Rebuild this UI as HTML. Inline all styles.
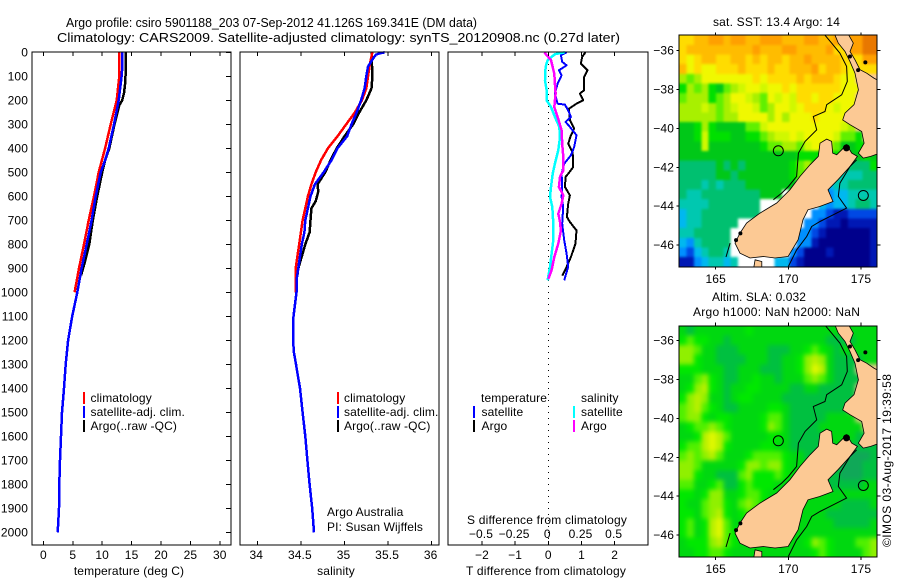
<!DOCTYPE html>
<html>
<head>
<meta charset="utf-8">
<title>Argo profile</title>
<style>
html,body{margin:0;padding:0;background:#fff;width:900px;height:580px;overflow:hidden}
svg{display:block}
text{font-family:"Liberation Sans",sans-serif;font-size:12px;fill:#000;letter-spacing:0.12px}
</style>
</head>
<body>
<svg id="fig" xmlns="http://www.w3.org/2000/svg" width="900" height="580" viewBox="0 0 900 580">
  <text x="66" y="27" style="font-size:13px;letter-spacing:0" textLength="411" lengthAdjust="spacingAndGlyphs">Argo profile: csiro 5901188_203 07-Sep-2012 41.126S 169.341E (DM data)</text>
  <text x="57" y="42" style="font-size:13px;letter-spacing:0" textLength="563" lengthAdjust="spacingAndGlyphs">Climatology: CARS2009. Satellite-adjusted climatology: synTS_20120908.nc (0.27d later)</text>
  <text x="129" y="575" text-anchor="middle">temperature (deg C)</text>
  <text x="336" y="575" text-anchor="middle">salinity</text>
  <text x="546" y="575" text-anchor="middle" textLength="160">T difference from climatology</text>
  <text x="547" y="524" text-anchor="middle" textLength="160">S difference from climatology</text>
  <text x="327" y="516">Argo Australia</text>
  <text x="327" y="531">PI: Susan Wijffels</text>
  <text x="713" y="26" textLength="127">sat. SST: 13.4  Argo: 14</text>
  <text x="712" y="301" textLength="94">Altim. SLA: 0.032</text>
  <text x="693" y="316" textLength="167">Argo h1000: NaN h2000: NaN</text>
  <text transform="translate(891,547) rotate(-90)" textLength="173">©IMOS 03-Aug-2017 19:39:58</text>
</svg>
<script>
// ---- profile data (depth in dbar, temperature in deg C, salinity in PSU) ----
const depthTicks = [0,100,200,300,400,500,600,700,800,900,1000,1100,1200,1300,1400,1500,1600,1700,1800,1900,2000];
const tempTicks = [0,5,10,15,20,25,30];
const salTicks = [34,34.5,35,35.5,36];
const tDiffTicks = [-2,-1,0,1,2];
const sDiffTicks = [-0.5,-0.25,0,0.25,0.5];
const sDiffTickLabels = ["−0.5","−0.25","0","0.25","0.5"];
const tDiffTickLabels = ["−2","−1","0","1","2"];
const salTickLabels = ["34","34.5","35","35.5","36"];

const tClimDepth = [0,100,200,300,400,500,600,700,800,900,1000];
const tClim = [12.9,12.9,12.46,11.44,10.5,9.4,8.6,7.7,6.9,6.05,5.3];
const tSatDepth = [0,50,100,200,300,400,450,500,600,700,800,900,1000,1100,1200,1300,1400,1500,1600,1700,1800,1900,2000];
const tSat = [13.4,13.45,13.3,12.8,12.0,11.1,10.5,9.75,8.9,8.2,7.36,6.5,5.77,4.9,4.2,3.8,3.5,3.16,3.0,2.82,2.7,2.65,2.43];
const tArgoDepth = [0,120,170,200,220,300,400,450,500,600,700,800,870,930];
const tArgo = [14.05,13.95,13.7,13.4,12.9,12.1,11.2,10.5,10.0,9.15,8.4,7.8,7.1,6.4];

const sClimDepth = [0,50,150,200,250,300,350,400,450,500,550,600,650,700,750,800,850,900,1000];
const sClim = [35.32,35.29,35.25,35.2,35.12,35.02,34.92,34.81,34.73,34.67,34.62,34.58,34.55,34.52,34.5,34.48,34.46,34.44,34.44];
const sSatDepth = [0,5,10,30,60,100,150,200,250,300,350,400,450,500,550,600,650,700,750,800,850,900,950,1000,1100,1200,1250,1300,1400,1500,1600,1700,1800,1900,2000];
const sSat = [35.46,35.4,35.36,35.32,35.27,35.25,35.23,35.19,35.14,35.08,35.03,34.92,34.85,34.76,34.66,34.61,34.58,34.55,34.54,34.51,34.49,34.47,34.45,34.45,34.415,34.41,34.42,34.444,34.49,34.52,34.55,34.575,34.6,34.63,34.65];
const sArgoDepth = [0,100,150,200,250,300,350,400,450,500,550,580,620,650,700,750,800,850,900,930];
const sArgo = [35.31,35.32,35.31,35.25,35.17,35.1,35.0,34.91,34.84,34.78,34.69,34.70,34.67,34.62,34.61,34.6,34.55,34.51,34.47,34.46];

const dtSatDepth = [0,12,40,54,75,96,131,172,214,218,242,269,290,311,346,394,429,464,506,561,603,644,714,783,839,894,950];
const dtSat = [.55,.38,.42,.55,.32,.40,.28,.20,.28,.50,.60,.68,.52,.65,.85,.78,.68,.48,.40,.42,.40,.45,.42,.48,.55,.60,.48];
const dtArgoDepth = [0,19,47,75,103,158,172,200,214,235,283,318,346,381,415,436,478,506,519,561,596,631,686,707,742,797,853,894,931];
const dtArgo = [1.12,1.02,.98,1.18,1.08,1.08,.95,1.05,.85,.62,.65,.78,.68,.60,.72,.75,.75,.60,.52,.50,.65,.60,.56,.65,.85,.82,.68,.55,.42];
const dsSatDepth = [0,8,33,61,117,158,200,228,269,311,353,408,464,506,561,603,644,714,783,839,894,950];
const dsSat = [.125,.05,-.005,-.02,-.025,-.0125,-.0125,.02,.05,.083,.088,.075,.05,.033,.02,.0125,.03,.038,.038,.025,.0125,-.005];
const dsArgoDepth = [0,33,89,131,172,228,269,325,381,436,492,519,561,596,631,672,707,742,797,853,908,944];
const dsArgo = [-.03,.02,.045,.05,.055,.045,.07,.1,.105,.113,.113,.088,.08,.113,.1,.075,.088,.095,.075,.045,.025,0];

// ---- map data (rows north to south, 0.5 degree cells; L = land) ----
const lonTicks = [165,170,175];
const latTicks = [-36,-38,-40,-42,-44,-46];
const sstGrid = [
"nnooppoppoopppoooppooppppqq",
"nooooooooopoooppoooopnnppqq",
"nmnoonnoononoonoopoooonnnpp",
"omnmmnnnonnnonnooopnoonmnnn",
"kjkmmmmmmmnmnnnnonooonmm" + "LLL",
"ikjkihjklmmlmmnmnnnnnnmmm" + "LL",
"jkkkijkmmlkjmlmlnnmnnmmm" + "LLL",
"kkklkjklmmljkmmlmnnnmlmm" + "LLL",
"kkkkkjkkmmmmkmkmmmnmmmm" + "LLLL",
"hhikihhhhjjlmmmmmmmmmmlk" + "LLL",
"hhiliiihhiijkllmlmmmmljji" + "LL",
"hhhlhhhhhhhijjkkjlmmkjhhii" + "L",
"hhhhhhhhhhhhhhhhiiiiiihhhih",
"ggggghghghhhhhhijkijiiggggi",
"ggggghhghhhhhhhijjiiiffffgg",
"gggfgfggghhhhhhhwiieeffgggg",
"gffgggggggghhhwhhhwwdeeffff",
"ffffgggggggwwwwwwwwedeefggf",
"effgggggggg" + "wwwwwww" + "dd" + "cbb" + "cccc",
"effggggg" + "wwwwwwwww" + "ddc" + "bbabbbb",
"ffgggggwwwwwwwwwddcbaaaaaab",
"edfggggwwwwwwwwwddbaaaaaaab",
"dcefggfwwwwwwwwdcaaabaaaaab",
"bbdeffef" + "wwwww" + "ee" + "cb" + "aaaaaaaaab"
];
const slaGrid = [
"CBCCCCCCCDCCCCCCCCCCCCCCCCC",
"DEDDCCBCCCCCCCCCCCCCBBBBCCC",
"FFECCBBBCCCCBBBCCDEDCBCCCCC",
"FFDCCBBBBCCCBBCCDFGFCBBBBCC",
"DDDCCCBBCCCBBBCCDFHGCBBB" + "LLL",
"CCEFDCBBCCDCCBCCCEFECBBBB" + "LL",
"CDFGDCBCCDDCCCCBBCCBBBBB" + "LLL",
"DFGFCCBCDDCCCCBBBBBBBBBB" + "LLL",
"EFGEDCBBCCCCDDCBBBBBBBB" + "LLLL",
"EFFDCDDCCCCDEECBBBBBCCCC" + "LLL",
"CDEEFEDCCCCDFECBBBBCCCCCC" + "LL",
"CCDGHGECCCCCDDCBBBBBCCCCBB" + "L",
"DEEGHGDCCCCDDCCBBBBBBCCBBBB",
"EFEFGECCCDEEEEDCCBBBBBBAAAB",
"FFECCCCCDFFEFFDCCCBBBBAAABB",
"FFDCCBBBEFDDDEDCCCCBBBAAABB",
"EECCDEBBDEDDDCCCCCCCBBBBBCC",
"DDCDFFCCDEEDCCCCCCCCCCCCCCC",
"DCCEFFDCEFEDCCCCCCCCCCBBBBC",
"DDCEFGDCDECCCCCCCCCCBBBBBBB",
"DECDGHECCCCCCCCCCCCCCBBBBBC",
"DECDGHEDCCCCCCCCCCCCCCCCCCC",
"CDDDFGEDCCCCCCCCCDFEDCCCEEF",
"CCDDEEDCCCCCCCCCCCDEDCCCCEF"
];
const southIsland = [[172.18,-40.76],[172.64,-40.55],[172.98,-40.67],[173.05,-41.27],[173.33,-41.36],[173.67,-41.10],[174.01,-40.84],[174.36,-41.27],[174.75,-41.44],[174.24,-41.96],[173.42,-42.64],[172.73,-43.16],[173.07,-43.76],[172.16,-44.02],[171.35,-44.19],[171.01,-44.70],[170.67,-45.73],[169.98,-46.59],[169.08,-46.67],[168.28,-46.59],[167.36,-46.67],[166.67,-46.42],[166.33,-45.90],[166.67,-45.39],[167.13,-44.87],[168.05,-44.36],[169.20,-43.84],[170.11,-43.16],[170.80,-42.47],[171.49,-41.87],[172.06,-41.44]];
const northIsland = [[173.10,-35.0],[173.44,-35.61],[173.90,-36.04],[174.24,-36.56],[174.59,-37.16],[174.82,-38.01],[174.52,-38.78],[173.90,-39.21],[173.74,-39.56],[174.24,-39.81],[175.05,-40.16],[175.21,-40.76],[174.82,-41.27],[175.16,-41.53],[175.67,-41.44],[176.6,-41.19],[176.6,-37.70],[175.89,-37.41],[175.39,-37.16],[174.93,-36.98],[174.59,-36.47],[174.24,-36.04],[174.47,-35.61],[174.01,-35.0]];
const stewartIsland = [[167.59,-47.3],[167.71,-46.76],[168.17,-46.85],[168.17,-47.3]];
const isobathWest = [[172.52,-35.2],[172.98,-35.61],[173.55,-36.13],[174.01,-36.81],[174.06,-37.58],[173.67,-38.27],[172.64,-38.78],[172.52,-39.13],[171.72,-39.39],[171.95,-40.07],[171.15,-40.67],[170.69,-41.27],[170.57,-42.47],[170.0,-42.99],[169.54,-43.33],[168.97,-43.67]];
const isobathEast = [[174.70,-41.62],[174.24,-41.96],[173.55,-42.82],[173.44,-43.50],[174.01,-44.10],[173.33,-44.36],[172.18,-44.79],[171.61,-45.05],[171.26,-45.56],[170.57,-46.25],[170.0,-47.1]];
const isobathSouth = [[165.99,-45.90],[165.71,-46.62]];
const coastBlobs = [[174.0,-41.0],[166.7,-45.4],[166.4,-45.75],[174.24,-36.3],[174.8,-37.0],[175.3,-36.6]];
const argoSpots = [[169.31,-41.15],[175.16,-43.45]];

const sstPalette = {a:"#00008c",b:"#0018b4",c:"#0048e4",d:"#0090ff",e:"#00b8f0",f:"#00c8b0",g:"#00c070",h:"#00c818",i:"#00e000",j:"#60f000",k:"#a8f000",l:"#d0f800",m:"#f0f800",n:"#ffdc00",o:"#ffbc00",p:"#ffa000",q:"#e87800",w:"#ffffff",L:"#fcc994"};
const slaPalette = {A:"#10a858",B:"#00c040",C:"#00d810",D:"#00e800",E:"#50f000",F:"#90f000",G:"#b8f000",H:"#e0f800",L:"#fcc994"};

const NS = "http://www.w3.org/2000/svg";
const fig = document.getElementById("fig");
function mk(tag, attrs, parent){
  const el = document.createElementNS(NS, tag);
  for (const k in attrs) el.setAttribute(k, attrs[k]);
  (parent || fig).appendChild(el);
  return el;
}
function segment(x1,y1,x2,y2,name){
  const el = mk("line",{x1:x1,y1:y1,x2:x2,y2:y2,stroke:"#000","stroke-width":1,"shape-rendering":"crispEdges"});
  
  
  return el;
}
function label(x,y,txt,anchor,name){
  const el = mk("text",{x:x,y:y,"text-anchor":anchor});
  el.textContent = txt;
  
  
  return el;
}
function frame(x0,y0,x1,y1,name){
  const el = mk("rect",{x:x0,y:y0,width:x1-x0,height:y1-y0,fill:"none",stroke:"#000","stroke-width":1,"shape-rendering":"crispEdges"});
  
  
}
function profile(xs,ds,sx,color,w,name){
  const pts = xs.map(function(v,i){return sx(v).toFixed(1)+","+yDepth(ds[i]).toFixed(1);}).join(" ");
  const el = mk("polyline",{points:pts,fill:"none",stroke:color,"stroke-width":w,"shape-rendering":"crispEdges","stroke-linejoin":"round"});
  
  
}
function legendBar(x,base,color,name){
  const el = mk("rect",{x:x,y:base-10,width:2,height:12,fill:color});
  
  
}

// axis functions
function yDepth(d){return 52.3+0.24*d;}
function xTemp(t){return 43.4+5.88*t;}
function xSal(s){return 257.3+87.2*(s-34);}
function xDT(t){return 548.3+33.2*t;}
function xDS(s){return 548.3+132.8*s;}
const TOP=52, BOTTOM=545;

// panel 1: temperature
profile(tArgo,tArgoDepth,xTemp,"#000",2.5,"temperature-argo-line");
profile(tClim,tClimDepth,xTemp,"#f00",2.5,"temperature-climatology-line");
profile(tSat,tSatDepth,xTemp,"#00f",2.5,"temperature-satellite-line");
frame(32,TOP,231,BOTTOM,"temperature-panel-frame");
depthTicks.forEach(function(d){
  label(28,yDepth(d)+4,String(d),"end","depth-tick-label");
  segment(226,yDepth(d),231,yDepth(d),"depth-tick");
});
tempTicks.forEach(function(t){
  label(xTemp(t),559,String(t),"middle","temperature-tick-label");
  segment(xTemp(t),TOP,xTemp(t),TOP+4,"temperature-top-tick");
  segment(xTemp(t),BOTTOM-4,xTemp(t),BOTTOM,"temperature-bottom-tick");
});
legendBar(83,402,"#f00","legend-climatology-swatch");
legendBar(83,416,"#00f","legend-satellite-swatch");
legendBar(83,430,"#000","legend-argo-swatch");
label(90.5,402,"climatology","start","legend-climatology-label");
label(90.5,416,"satellite-adj. clim.","start","legend-satellite-label");
label(90.5,430,"Argo(..raw -QC)","start","legend-argo-label");

// panel 2: salinity
profile(sArgo,sArgoDepth,xSal,"#000",2.5,"salinity-argo-line");
profile(sClim,sClimDepth,xSal,"#f00",2.5,"salinity-climatology-line");
profile(sSat,sSatDepth,xSal,"#00f",2.5,"salinity-satellite-line");
frame(240,TOP,439,BOTTOM,"salinity-panel-frame");
salTicks.forEach(function(s,i){
  label(xSal(s)-1,559,salTickLabels[i],"middle","salinity-tick-label");
  segment(xSal(s),TOP,xSal(s),TOP+4,"salinity-top-tick");
  segment(xSal(s),BOTTOM-4,xSal(s),BOTTOM,"salinity-bottom-tick");
});
legendBar(337,402,"#f00","salinity-legend-climatology-swatch");
legendBar(337,416,"#00f","salinity-legend-satellite-swatch");
legendBar(337,430,"#000","salinity-legend-argo-swatch");
label(344,402,"climatology","start","salinity-legend-climatology-label");
label(344,416,"satellite-adj. clim.","start","salinity-legend-satellite-label");
label(344,430,"Argo(..raw -QC)","start","salinity-legend-argo-label");

// panel 3: differences
const zero = mk("line",{x1:xDT(0),y1:TOP,x2:xDT(0),y2:BOTTOM,stroke:"#000","stroke-width":1,"stroke-dasharray":"1 5","shape-rendering":"crispEdges"});


profile(dtArgo,dtArgoDepth,xDT,"#000",2,"t-difference-argo-line");
profile(dtSat,dtSatDepth,xDT,"#00f",2,"t-difference-satellite-line");
profile(dsSat,dsSatDepth,xDS,"#0ff",2.5,"s-difference-satellite-line");
profile(dsArgo,dsArgoDepth,xDS,"#f0f",2.5,"s-difference-argo-line");
frame(448,TOP,648,BOTTOM,"difference-panel-frame");
tDiffTicks.forEach(function(t,i){
  label(xDT(t),559,tDiffTickLabels[i],"middle","t-difference-tick-label");
  segment(xDT(t),TOP,xDT(t),TOP+4,"difference-top-tick");
  segment(xDT(t),BOTTOM-4,xDT(t),BOTTOM,"difference-bottom-tick");
});
sDiffTicks.forEach(function(s,i){
  label(xDS(s)-1,538,sDiffTickLabels[i],"middle","s-difference-tick-label");
});
label(481,402,"temperature","start","legend-temperature-heading");
label(481.5,416,"satellite","start","legend-t-satellite-label");
label(481.5,430,"Argo","start","legend-t-argo-label");
label(581,402,"salinity","start","legend-salinity-heading");
label(581,416,"satellite","start","legend-s-satellite-label");
label(581,430,"Argo","start","legend-s-argo-label");
legendBar(473,416,"#00f","legend-t-satellite-swatch");
legendBar(473,430,"#000","legend-t-argo-swatch");
legendBar(573,416,"#0ff","legend-s-satellite-swatch");
legendBar(573,430,"#f0f","legend-s-argo-swatch");

// maps
function drawMap(prefix, grid, palette, y0, y1, lat36, tickBaseline, blur){
  const x0 = 679.3, x1 = 877.3;
  const lonX = function(lon){return 715.7+(lon-165)*14.53;};
  const latY = function(lat){return lat36+(-36-lat)*19.43;};
  const nRows = grid.length, nCols = grid[0].length;
  const cw = (x1-x0)/nCols, ch = (y1-y0)/nRows;
  const clipId = prefix+"-clip";
  const blurId = prefix+"-blur";
  const defs = mk("defs",{});
  const cp = mk("clipPath",{id:clipId},defs);
  mk("rect",{x:x0,y:y0,width:x1-x0,height:y1-y0},cp);
  const flt = mk("filter",{id:blurId,filterUnits:"userSpaceOnUse",x:x0-30,y:y0-30,width:x1-x0+60,height:y1-y0+60,"color-interpolation-filters":"sRGB"},defs);
  mk("feGaussianBlur",{stdDeviation:blur},flt);
  const g = mk("g",{"clip-path":"url(#"+clipId+")"});
  
  
  const cells = mk("g",{filter:"url(#"+blurId+")"},g);
  
  
  grid.forEach(function(row,r){
    for (let c=0;c<nCols;c++){
      const key = row[c] || row[row.length-1];
      let rx = x0+c*cw, ry = y0+r*ch, rw = cw+0.6, rh = ch+0.6;
      if (c===0){rx-=14;rw+=14;}
      if (c===nCols-1){rw+=14;}
      if (r===0){ry-=14;rh+=14;}
      if (r===nRows-1){rh+=14;}
      const cell = mk("rect",{x:rx.toFixed(2),y:ry.toFixed(2),width:rw.toFixed(2),height:rh.toFixed(2),fill:palette[key],"shape-rendering":"crispEdges"},cells);
      
      
    }
  });
  const toPath = function(arr){return arr.map(function(p,i){return (i?"L":"M")+lonX(p[0]).toFixed(1)+" "+latY(p[1]).toFixed(1);}).join(" ")+" Z";};
  const toPts = function(arr){return arr.map(function(p){return lonX(p[0]).toFixed(1)+","+latY(p[1]).toFixed(1);}).join(" ");};
  const land = mk("path",{d:[southIsland,northIsland,stewartIsland].map(toPath).join(" "),fill:"#fcc994",stroke:"#000","stroke-width":0.8},g);
  
  
  [isobathWest,isobathEast,isobathSouth].forEach(function(arr){
    const iso = mk("polyline",{points:toPts(arr),fill:"none",stroke:"#000","stroke-width":1},g);
    
    
  });
  coastBlobs.forEach(function(p,i){
    const blob = mk("circle",{cx:lonX(p[0]),cy:latY(p[1]),r:i===0?3.5:2,fill:"#000"},g);
    
    
  });
  argoSpots.forEach(function(p){
    const spot = mk("circle",{cx:lonX(p[0]),cy:latY(p[1]),r:5,fill:"none",stroke:"#000","stroke-width":1},g);
    
    
  });
  frame(Math.round(x0),Math.round(y0),Math.round(x1),Math.round(y1),prefix+"-map-frame");
  lonTicks.forEach(function(lon){
    const x = lonX(lon);
    segment(x,y0-3,x,y0,prefix+"-lon-tick-top");
    segment(x,y1,x,y1+3,prefix+"-lon-tick-bottom");
    label(x,tickBaseline,String(lon),"middle",prefix+"-lon-label");
  });
  latTicks.forEach(function(lat){
    const y = latY(lat);
    segment(x0-3,y,x0,y,prefix+"-lat-tick-left");
    segment(x1,y,x1+3,y,prefix+"-lat-tick-right");
    label(674,y+4,"−"+Math.abs(lat),"end",prefix+"-lat-label");
  });
}
drawMap("sst",sstGrid,sstPalette,35.3,266.7,50.7,283,1.2);
drawMap("sla",slaGrid,slaPalette,325.7,557,340.7,573,2.5);
</script>
</body>
</html>
